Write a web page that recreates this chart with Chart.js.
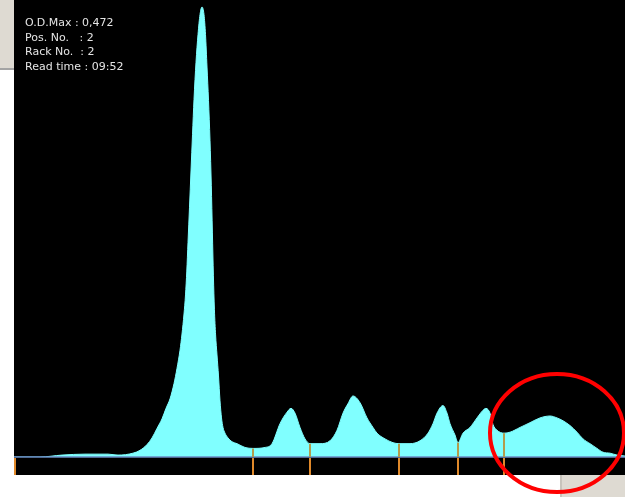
<!DOCTYPE html>
<html>
<head>
<meta charset="utf-8">
<script src="https://cdn.jsdelivr.net/npm/chart.js@4.4.0/dist/chart.umd.min.js"></script>
<style>
  html, body { margin: 0; padding: 0; background: #fff; }
  #wrap { position: relative; width: 625px; height: 497px; }
</style>
</head>
<body>
<div id="wrap"><canvas id="scan" width="625" height="497"></canvas></div>
<script>
// scan position (arbitrary units) and optical density
const scanPos = [0, 26, 48, 71, 94, 104, 119, 126, 133, 138, 143, 148, 152, 156, 160, 163, 166, 168, 170, 171.5,
  172.8, 174, 175.5, 177, 178.5, 180, 182, 184, 186, 188, 190, 191.5, 193, 194.5, 196, 197.3, 198.4, 199.4,
  200.4, 201.6, 203, 204.5, 206, 207.5, 209, 211, 214, 218, 223, 231, 239, 251, 258, 266, 273, 277, 281, 286, 291, 296,
  306, 316, 323, 329, 334, 339, 346, 353, 359, 363, 371, 379, 385, 396, 406, 414, 419, 423, 429, 433, 436, 441,
  444, 449, 456, 463, 469, 472, 476, 479, 483, 490, 496, 506, 516, 526, 536, 543, 549, 556, 563, 569, 576, 583,
  589, 596, 603, 611];
const odValues = [0, 0, 0.002, 0.003, 0.003, 0.002, 0.004, 0.007, 0.013, 0.020, 0.030, 0.040, 0.051, 0.061, 0.077, 0.093, 0.112, 0.129, 0.150, 0.170,
  0.195, 0.225, 0.262, 0.300, 0.338, 0.375, 0.414, 0.443, 0.464, 0.472, 0.464, 0.443, 0.409, 0.374, 0.332, 0.285, 0.235, 0.190,
  0.155, 0.128, 0.107, 0.085, 0.059, 0.041, 0.031, 0.025, 0.020, 0.016, 0.014, 0.010, 0.009, 0.010, 0.014, 0.035, 0.047, 0.051, 0.046, 0.031, 0.019, 0.014,
  0.014, 0.017, 0.028, 0.046, 0.056, 0.064, 0.057, 0.041, 0.031, 0.025, 0.019, 0.015, 0.014, 0.014, 0.017, 0.025, 0.035, 0.046, 0.054, 0.046, 0.035, 0.023,
  0.015, 0.025, 0.031, 0.041, 0.049, 0.051, 0.046, 0.034, 0.028, 0.025, 0.026, 0.031, 0.036, 0.041, 0.043, 0.041, 0.038, 0.033, 0.026, 0.019, 0.014, 0.009,
  0.005, 0.004, 0.002, 0.001];

// fraction boundaries (drop lines)
const cutPos = [0, 239, 296, 385, 444, 490];
const cutOd = [0, 0.009, 0.014, 0.014, 0.015, 0.025];

const infoLines = ['O.D.Max : 0,472', 'Pos. No.   : 2', 'Rack No.  : 2', 'Read time : 09:52'];

const frame = {
  id: 'frame',
  beforeDraw(chart) {
    const ctx = chart.ctx;
    ctx.save();
    ctx.fillStyle = '#ffffff';
    ctx.fillRect(0, 0, 625, 497);
    // grey window bits
    ctx.fillStyle = '#dedad2';
    ctx.fillRect(0, 0, 14, 68);
    ctx.fillStyle = '#a4a4a4';
    ctx.fillRect(0, 68, 14, 2);
    ctx.fillStyle = '#dedad2';
    ctx.fillRect(560, 475, 65, 22);
    ctx.fillStyle = '#c8c4bc';
    ctx.fillRect(560, 475, 2, 22);
    ctx.fillStyle = '#000000';
    ctx.fillRect(14, 0, 611, 475);
    ctx.restore();
  },
  afterDatasetsDraw(chart) {
    const ctx = chart.ctx;
    const xs = chart.scales.x, ys = chart.scales.y;
    const base = ys.getPixelForValue(0);
    ctx.save();
    ctx.strokeStyle = '#6a8cc4';
    ctx.lineWidth = 1.5;
    ctx.beginPath();
    ctx.moveTo(14, base);
    ctx.lineTo(625, base);
    ctx.stroke();

    ctx.lineWidth = 2;
    cutPos.forEach((p, i) => {
      const x = Math.round(xs.getPixelForValue(p)) + (i === 0 ? 1 : 0);
      ctx.strokeStyle = '#b29c4c';
      ctx.beginPath();
      ctx.moveTo(x, ys.getPixelForValue(cutOd[i]));
      ctx.lineTo(x, base);
      ctx.stroke();
      ctx.strokeStyle = '#e0892a';
      ctx.beginPath();
      ctx.moveTo(x, base + 1);
      ctx.lineTo(x, 475);
      ctx.stroke();
    });

    ctx.fillStyle = '#e4e4e4';
    ctx.font = '11px "DejaVu Sans"';
    ctx.textBaseline = 'middle';
    infoLines.forEach((t, i) => ctx.fillText(t, 25, 23 + i * 14.7));

    ctx.strokeStyle = '#ff0000';
    ctx.lineWidth = 4;
    ctx.beginPath();
    ctx.ellipse(557, 433, 67, 59, 0, 0, Math.PI * 2);
    ctx.stroke();
    ctx.restore();
  }
};

new Chart(document.getElementById('scan'), {
  type: 'line',
  data: {
    datasets: [{
      data: scanPos.map((p, i) => ({ x: p, y: odValues[i] })),
      borderColor: '#80ffff',
      backgroundColor: '#80ffff',
      borderWidth: 1,
      fill: 'origin',
      pointRadius: 0,
      cubicInterpolationMode: 'monotone'
    }]
  },
  options: {
    responsive: false,
    animation: false,
    events: [],
    layout: { padding: { left: 14, top: 0, right: 0, bottom: 40 } },
    plugins: { legend: { display: false }, tooltip: { enabled: false } },
    scales: {
      x: { type: 'linear', min: 0, max: 611, display: false },
      y: { min: 0, max: 0.4793, display: false }
    }
  },
  plugins: [frame]
});
</script>
</body>
</html>
